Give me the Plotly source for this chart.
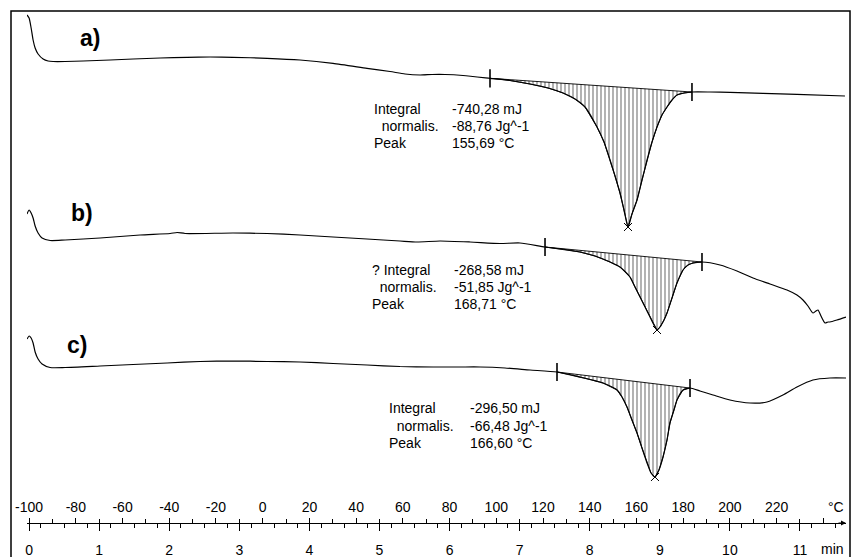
import plotly.graph_objects as go
import numpy as np

# ---------------- data (time in min, heat flow in arbitrary units incl. vertical offset) ----------------
t_a = [-0.03, 0.0, 0.029, 0.057, 0.086, 0.128, 0.200, 0.271, 0.342, 0.514, 0.770, 1.156, 1.484, 1.869,
       2.254, 2.582, 2.910, 3.396, 3.866, 4.337, 4.822, 5.151, 5.365, 5.579, 5.750, 5.935, 6.192, 6.577,
       6.863, 7.148, 7.405, 7.619, 7.790, 7.933, 8.104, 8.204, 8.290, 8.361, 8.432, 8.489, 8.546, 8.603,
       8.675, 8.746, 8.818, 8.889, 8.960, 9.031, 9.103, 9.174, 9.245, 9.345, 9.459, 9.716, 10.001, 10.472,
       10.957, 11.642]
hf_a = [508, 505, 495, 483, 475, 469, 464, 462, 461.5, 461.5, 462, 463, 464, 465, 465.7, 466, 465.7, 464.7,
        463, 459.7, 454.7, 451.5, 449, 448, 448.5, 448.5, 447.5, 444.7, 442.5, 439, 435, 430, 424, 416, 396,
        381, 363, 347, 330, 313, 296, 309, 323, 343, 363, 381, 396, 408, 416, 423, 428, 430, 431, 431, 430.7,
        429.7, 428.7, 427]

t_b = [-0.03, 0.0, 0.029, 0.057, 0.086, 0.128, 0.185, 0.300, 0.514, 1.013, 1.584, 2.012, 2.112, 2.226, 2.911,
       3.396, 3.866, 4.337, 4.822, 5.293, 5.536, 5.864, 6.292, 6.720, 7.005, 7.362, 7.647, 7.861, 8.075,
       8.290, 8.432, 8.575, 8.646, 8.718, 8.789, 8.860, 8.917, 8.960, 9.003, 9.060, 9.103, 9.174, 9.245,
       9.331, 9.402, 9.474, 9.602, 9.859, 10.101, 10.330, 10.572, 10.815, 10.957, 11.043, 11.114, 11.185,
       11.228, 11.257, 11.300, 11.357, 11.399, 11.428, 11.528, 11.657]
hf_b = [309, 313, 310, 305, 297, 290, 285, 282.5, 283, 285, 288, 289.5, 290.5, 289.5, 290, 289.5, 288, 286,
        284, 282, 281, 282, 281, 279.5, 280, 276, 273.5, 271, 267, 261, 256, 246, 236, 226, 216, 206, 198,
        193, 196, 203, 210, 225, 240, 253, 258, 260, 261, 258, 252, 245, 239, 233, 228, 223, 217, 210, 212,
        213, 207, 200, 201, 201, 203, 206]

t_c = [-0.029, 0.0, 0.029, 0.057, 0.086, 0.128, 0.185, 0.300, 0.514, 1.013, 1.484, 1.969, 2.440, 2.911,
       3.396, 3.866, 4.337, 4.822, 5.293, 5.764, 6.149, 6.435, 6.791, 7.148, 7.533, 7.861, 8.033, 8.190,
       8.318, 8.390, 8.461, 8.532, 8.603, 8.675, 8.746, 8.818, 8.875, 8.931, 8.988, 9.046, 9.103, 9.145,
       9.202, 9.245, 9.331, 9.431, 9.573, 9.759, 10.001, 10.287, 10.529, 10.757, 10.957, 11.185, 11.428,
       11.671]
hf_c = [184, 187, 185, 180, 171, 164, 159, 155.5, 155.5, 157, 158.5, 160, 161.5, 162, 161.5, 161, 159.5, 158,
        156.5, 156, 156, 156, 155, 153, 151, 146, 143, 140, 136, 133, 126, 116, 103, 90, 75, 60, 50, 46, 53,
        66, 83, 100, 113, 123, 133, 135, 132, 128, 123, 120, 121, 128, 136, 143, 145, 145]

# integration limits (min) and peak times (min)
limits_a = [6.577, 9.459]
limits_b = [7.362, 9.602]
limits_c = [7.533, 9.431]
peak_t = {"a": 8.546, "b": 8.960, "c": 8.931}

results_a = ["-740,28 mJ", "-88,76 Jg^-1", "155,69 °C"]
results_b = ["-268,58 mJ", "-51,85 Jg^-1", "168,71 °C"]
results_c = ["-296,50 mJ", "-66,48 Jg^-1", "166,60 °C"]
row_labels_a = ["Integral", "  normalis.", "Peak"]
row_labels_b = ["? Integral", "  normalis.", "Peak"]
row_labels_c = ["Integral", "  normalis.", "Peak"]

time_ticks = list(range(0, 12))
temp_ticks = list(range(-100, 241, 20))

FONT = "Liberation Sans, Arial, Helvetica, sans-serif"
fig = go.Figure()

curves = [("a", t_a, hf_a, limits_a), ("b", t_b, hf_b, limits_b), ("c", t_c, hf_c, limits_c)]
for name, t, hf, lim in curves:
    t = np.array(t, dtype=float)
    hf = np.array(hf, dtype=float)
    y0 = float(np.interp(lim[0], t, hf))
    y1 = float(np.interp(lim[1], t, hf))
    inside = (t > lim[0]) & (t < lim[1])
    px = [lim[0]] + list(t[inside]) + [lim[1], lim[0]]
    py = [y0] + list(hf[inside]) + [y1, y0]
    # hatched peak area
    fig.add_trace(go.Scatter(x=px, y=py, mode="lines", fill="toself", fillcolor="rgba(0,0,0,0)",
                             fillpattern=dict(shape="|", size=4, solidity=0.3, fgcolor="black",
                                              bgcolor="rgba(0,0,0,0)"),
                             line=dict(color="black", width=0.9), hoverinfo="skip"))
    # curve
    fig.add_trace(go.Scatter(x=t, y=hf, mode="lines", line=dict(color="black", width=1.2, shape="spline",
                                                                 smoothing=0.6), hoverinfo="skip"))
    # integration limit marks
    fig.add_trace(go.Scatter(x=lim, y=[y0, y1], mode="markers",
                             marker=dict(symbol="line-ns-open", size=13, color="black",
                                         line=dict(color="black", width=1.6)),
                             hoverinfo="skip"))
    # peak cross
    pk = peak_t[name]
    fig.add_trace(go.Scatter(x=[pk], y=[float(np.interp(pk, t, hf))], mode="markers",
                             marker=dict(symbol="x-thin-open", size=8, color="black",
                                         line=dict(color="black", width=1)),
                             hoverinfo="skip"))

# dummy trace to activate temperature axis
fig.add_trace(go.Scatter(x=[temp_ticks[0], temp_ticks[-1]], y=[0, 0], xaxis="x2", yaxis="y", mode="markers",
                         marker=dict(opacity=0), hoverinfo="skip"))

ann = []
# curve labels
for lbl, x, y in [("a)", 0.87, 485), ("b)", 0.76, 310), ("c)", 0.69, 178)]:
    ann.append(dict(x=x, y=y, text=lbl, showarrow=False, xanchor="center", yanchor="middle",
                    font=dict(family=FONT, size=23, color="black", weight="bold")))

def add_results(labels, values, x_lab, x_val, y_rows):
    for lab, val, y in zip(labels, values, y_rows):
        ann.append(dict(x=x_lab, y=y, text=lab.replace(" ", "&nbsp;"), showarrow=False, xanchor="left",
                        yanchor="middle", font=dict(family=FONT, size=14, color="black")))
        ann.append(dict(x=x_val, y=y, text=val, showarrow=False, xanchor="left", yanchor="middle",
                        font=dict(family=FONT, size=14, color="black")))

add_results(row_labels_a, results_a, 4.90, 6.00, [414, 397, 380])
add_results(row_labels_b, results_b, 4.87, 6.03, [253, 236, 219])
add_results(row_labels_c, results_c, 5.10, 6.26, [115, 97, 80])

# axis unit labels
ann.append(dict(x=1.0, xref="paper", y=16, yref="y", text="°C", showarrow=False, xanchor="right",
                yanchor="middle", font=dict(family=FONT, size=14, color="black")))
ann.append(dict(x=1.0, xref="paper", y=-26 / 512, yref="paper", text="min", showarrow=False, xanchor="right",
                yanchor="middle", font=dict(family=FONT, size=14, color="black")))
# axis arrow head
ann.append(dict(x=1.0, xref="paper", y=0, yref="y", ax=-9, ay=0, showarrow=True, arrowhead=2,
                arrowsize=1, arrowwidth=1, arrowcolor="black", text=""))

fig.update_layout(
    width=852, height=557,
    margin=dict(l=27, r=6, t=11, b=34),
    paper_bgcolor="white", plot_bgcolor="white",
    showlegend=False,
    annotations=ann,
    xaxis=dict(range=[-0.03, 11.657], tickmode="linear", tick0=0, dtick=1, ticks="outside", ticklen=7,
               tickcolor="black", tickwidth=1, showline=True, linecolor="black", linewidth=1,
               showgrid=False, zeroline=False, ticklabelstandoff=7, automargin=False,
               tickfont=dict(family=FONT, size=14, color="black"),
               minor=dict(tick0=1/6, dtick=1/3, ticks="outside", ticklen=4, tickcolor="black", showgrid=False)),
    xaxis2=dict(overlaying="x", side="top", anchor="free", position=0, automargin=False,
                range=[-100 + 30 * -0.03, -100 + 30 * 11.657],
                tickmode="array", tickvals=temp_ticks,
                ticktext=[str(v) if v <= 220 else "" for v in temp_ticks],
                ticks="outside", ticklen=5, tickcolor="black", tickwidth=1,
                showline=False, showgrid=False, zeroline=False, ticklabelstandoff=0,
                tickfont=dict(family=FONT, size=14, color="black"),
                minor=dict(tickmode="linear", tick0=-90, dtick=20, ticks="outside", ticklen=4,
                           tickcolor="black", showgrid=False)),
    yaxis=dict(range=[0, 512], visible=False, fixedrange=True, automargin=False),
    shapes=[dict(type="rect", xref="paper", yref="paper", x0=-16 / 819, x1=823 / 819, y0=-0.12, y1=1.0,
                 line=dict(color="black", width=1.5), fillcolor="rgba(0,0,0,0)", layer="below")],
)

fig.write_html("out.html", config={"displayModeBar": False},
               post_script="document.body.style.margin='0';document.body.style.overflow='hidden';")
